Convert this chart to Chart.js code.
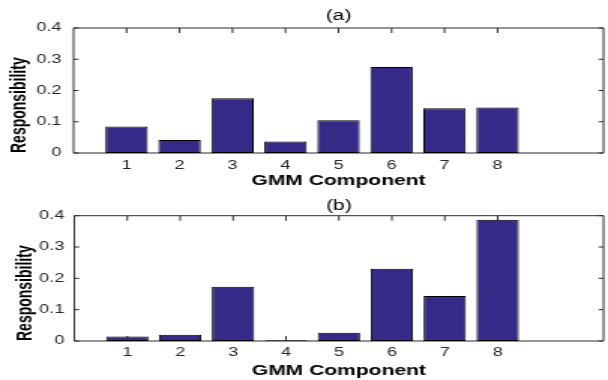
<!DOCTYPE html>
<html>
<head>
<meta charset="utf-8">
<script src="https://cdn.jsdelivr.net/npm/chart.js@4"></script>
<style>
  body { margin: 0; background: #fff; }
  canvas { display: block; width: 608px; height: 190px; }
</style>
</head>
<body>
<canvas id="chartA" width="405" height="190" style="width:608px;height:190px"></canvas>
<canvas id="chartB" width="405" height="190" style="width:608px;height:190px"></canvas>
<script>
// data
const components = [1, 2, 3, 4, 5, 6, 7, 8];
const respA = [0.085, 0.042, 0.175, 0.037, 0.105, 0.275, 0.143, 0.146];
const respB = [0.014, 0.020, 0.173, 0.002, 0.026, 0.231, 0.144, 0.387];
const yTicks = [0, 0.1, 0.2, 0.3, 0.4];
const xRange = [0, 10];

// the original picture is stretched sideways, so the canvas is drawn narrow and scaled by css
const barColor = '#352a87';
const axisColor = '#2b2b2b';

// box round the plot with inward ticks on all sides (matlab style)
const frameTicks = {
    id: 'frameTicks',
    beforeDatasetsDraw(chart) {
        const { ctx, chartArea: a, scales: { x, y } } = chart;
        ctx.save();
        ctx.strokeStyle = axisColor;
        ctx.lineWidth = 1;
        ctx.beginPath();
        components.forEach(c => {
            const px = x.getPixelForValue(c);
            ctx.moveTo(px, a.top);
            ctx.lineTo(px, a.top + 5);
            ctx.moveTo(px, a.bottom);
            ctx.lineTo(px, a.bottom - 5);
        });
        yTicks.forEach(v => {
            const py = y.getPixelForValue(v);
            ctx.moveTo(a.left, py);
            ctx.lineTo(a.left + 3.3, py);
            ctx.moveTo(a.right, py);
            ctx.lineTo(a.right - 3.3, py);
        });
        ctx.rect(a.left, a.top, a.right - a.left, a.bottom - a.top);
        ctx.stroke();
        ctx.restore();
    }
};

function makeChart(id, label, values, lay) {
    const ctx = document.getElementById(id).getContext('2d');
    return new Chart(ctx, {
        type: 'bar',
        data: {
            datasets: [{
                data: components.map((c, i) => ({ x: c, y: values[i] })),
                backgroundColor: barColor,
                borderColor: '#000',
                borderWidth: 1,
                borderSkipped: false,
                barPercentage: 0.8,
                categoryPercentage: 1
            }]
        },
        options: {
            responsive: false,
            devicePixelRatio: 1,
            animation: false,
            layout: { padding: { left: 0, right: 3, top: 0, bottom: 0 } },
            plugins: {
                legend: { display: false },
                tooltip: { enabled: false },
                title: {
                    display: true,
                    text: label,
                    fullSize: false,
                    color: '#000',
                    font: { family: 'Liberation Sans', size: 14, weight: 'normal' },
                    padding: lay.titlePad
                }
            },
            scales: {
                x: {
                    type: 'linear',
                    min: xRange[0],
                    max: xRange[1],
                    offset: false,
                    grid: { display: false, drawTicks: false },
                    border: { display: false },
                    afterBuildTicks: s => { s.ticks = components.map(v => ({ value: v })); },
                    afterFit: s => { s.height = lay.xHeight; },
                    ticks: {
                        autoSkip: false,
                        maxRotation: 0,
                        padding: lay.xPad,
                        color: '#262626',
                        font: { family: 'Liberation Sans', size: 12 }
                    },
                    title: {
                        display: true,
                        text: 'GMM Component',
                        color: '#000',
                        padding: 0,
                        font: { family: 'Liberation Sans', size: 14, weight: 'bold' }
                    }
                },
                y: {
                    min: 0,
                    max: 0.4,
                    grid: { display: false, drawTicks: false },
                    border: { display: false },
                    afterBuildTicks: s => { s.ticks = yTicks.map(v => ({ value: v })); },
                    afterFit: s => { s.width = lay.yWidth; },
                    ticks: {
                        padding: lay.yPad,
                        color: '#262626',
                        font: { family: 'Liberation Sans', size: 12 },
                        callback: v => v === 0 ? '0' : v.toFixed(1)
                    },
                    title: {
                        display: true,
                        text: 'Responsibility',
                        align: 'start',
                        color: '#000',
                        padding: { top: lay.yTitlePad, bottom: 0 },
                        font: { family: 'Liberation Sans', size: 14, weight: 'bold' }
                    }
                }
            }
        },
        plugins: [frameTicks]
    });
}

makeChart('chartA', '(a)', respA, {
    titlePad: { top: 7.6, bottom: 3.6 },
    xHeight: 37, xPad: 5, yWidth: 49, yPad: 8, yTitlePad: 5
});
makeChart('chartB', '(b)', respB, {
    titlePad: { top: 8.1, bottom: 0.8 },
    xHeight: 39, xPad: 4, yWidth: 49.5, yPad: 6.7, yTitlePad: 8.3
});
</script>
</body>
</html>
